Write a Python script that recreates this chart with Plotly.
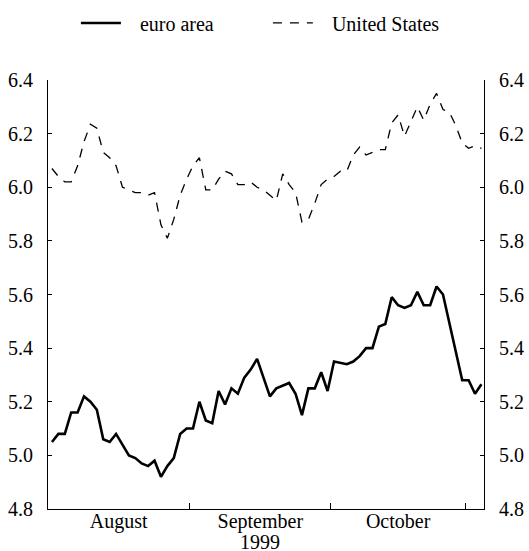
import plotly.graph_objects as go
import pandas as pd

# Business days, 2 Aug 1999 – 3 Nov 1999
dates = pd.bdate_range("1999-08-02", "1999-11-03")
idx = list(range(len(dates)))

euro_area = [
    5.05, 5.08, 5.08, 5.16, 5.16, 5.22, 5.20, 5.17, 5.06, 5.05,
    5.08, 5.04, 5.00, 4.99, 4.97, 4.96, 4.98, 4.92, 4.96, 4.99,
    5.08, 5.10, 5.10, 5.20, 5.13, 5.12, 5.24, 5.19, 5.25, 5.23,
    5.29, 5.32, 5.36, 5.29, 5.22, 5.25, 5.26, 5.27, 5.23, 5.15,
    5.25, 5.25, 5.31, 5.24, 5.35, 5.345, 5.34, 5.35, 5.37, 5.40,
    5.40, 5.48, 5.49, 5.59, 5.56, 5.55, 5.56, 5.61, 5.56, 5.56,
    5.63, 5.60, 5.49, 5.38, 5.28, 5.28, 5.23, 5.265,
]

united_states = [
    6.07, 6.04, 6.02, 6.02, 6.08, 6.17, 6.235, 6.22, 6.13, 6.11,
    6.08, 6.00, 5.99, 5.98, 5.98, 5.97, 5.98, 5.86, 5.81, 5.88,
    5.97, 6.03, 6.08, 6.11, 5.99, 5.99, 6.03, 6.06, 6.05, 6.01,
    6.01, 6.02, 6.00, 5.99, 5.97, 5.95, 6.05, 6.01, 5.98, 5.87,
    5.88, 5.94, 6.01, 6.03, 6.04, 6.06, 6.06, 6.12, 6.15, 6.12,
    6.13, 6.14, 6.14, 6.24, 6.27, 6.19, 6.245, 6.30, 6.25, 6.31,
    6.35, 6.29, 6.28, 6.23, 6.165, 6.145, 6.155, 6.145,
]

series_names = ["euro area", "United States"]
month_labels = ["August", "September", "October"]
month_centres = [10.4, 32.5, 54.0]
month_bounds = [21.5, 43.5, 64.5]
year_label = "1999"
year_centre = 32.5
y_ticks = [4.8, 5.0, 5.2, 5.4, 5.6, 5.8, 6.0, 6.2, 6.4]
y_text = ["4.8", "5.0", "5.2", "5.4", "5.6", "5.8", "6.0", "6.2", "6.4"]

FONT = "Liberation Serif, Times New Roman, serif"
PAD = "\u2002\u2009"  # small gap between legend sample and text

fig = go.Figure()
fig.add_trace(go.Scatter(
    x=idx, y=euro_area, mode="lines", name=PAD + series_names[0],
    line=dict(color="black", width=2.6),
))
fig.add_trace(go.Scatter(
    x=idx, y=united_states, mode="lines", name=PAD + series_names[1],
    yaxis="y2",
    line=dict(color="black", width=1.3, dash="9px,8px"),
))

yaxis_common = dict(
    range=[4.8, 6.4], tickvals=y_ticks, ticktext=y_text,
    ticks="inside", ticklen=4, tickwidth=1, tickcolor="black",
    showline=True, linecolor="black", linewidth=1.2,
    showgrid=False, zeroline=False, ticklabelstandoff=10, automargin=False,
    tickfont=dict(family=FONT, size=20, color="black"),
)

fig.update_layout(
    width=529, height=551,
    margin=dict(l=48, r=45, t=80, b=42, autoexpand=False),
    paper_bgcolor="white", plot_bgcolor="white",
    font=dict(family=FONT, size=20, color="black"),
    showlegend=True,
    legend=dict(
        orientation="h", x=0.064, xanchor="left", y=1.133, yanchor="middle",
        font=dict(family=FONT, size=20, color="black"),
        entrywidth=137, itemwidth=40, bgcolor="rgba(0,0,0,0)",
    ),
    xaxis=dict(
        range=[-0.62, 67.4], tickvals=month_centres, ticktext=month_labels,
        ticks="", showline=True, linecolor="black", linewidth=1.2,
        showgrid=False, zeroline=False, automargin=False,
        ticklabelstandoff=-6,
        tickfont=dict(family=FONT, size=20, color="black"),
        minor=dict(tickvals=month_bounds, ticks="inside", ticklen=6,
                   tickwidth=1, tickcolor="black", showgrid=False),
    ),
    yaxis=dict(side="left", **yaxis_common),
    yaxis2=dict(side="right", overlaying="y", **yaxis_common),
    annotations=[dict(
        x=year_centre, xref="x", y=-0.0758, yref="paper",
        text=year_label, showarrow=False, yanchor="middle", xanchor="center",
        height=18, valign="middle",
        font=dict(family=FONT, size=20, color="black"),
    )],
)

fig.write_html(
    "out.html",
    config={"displayModeBar": False},
    post_script="document.body.style.margin='0';document.body.style.padding='0';",
)
